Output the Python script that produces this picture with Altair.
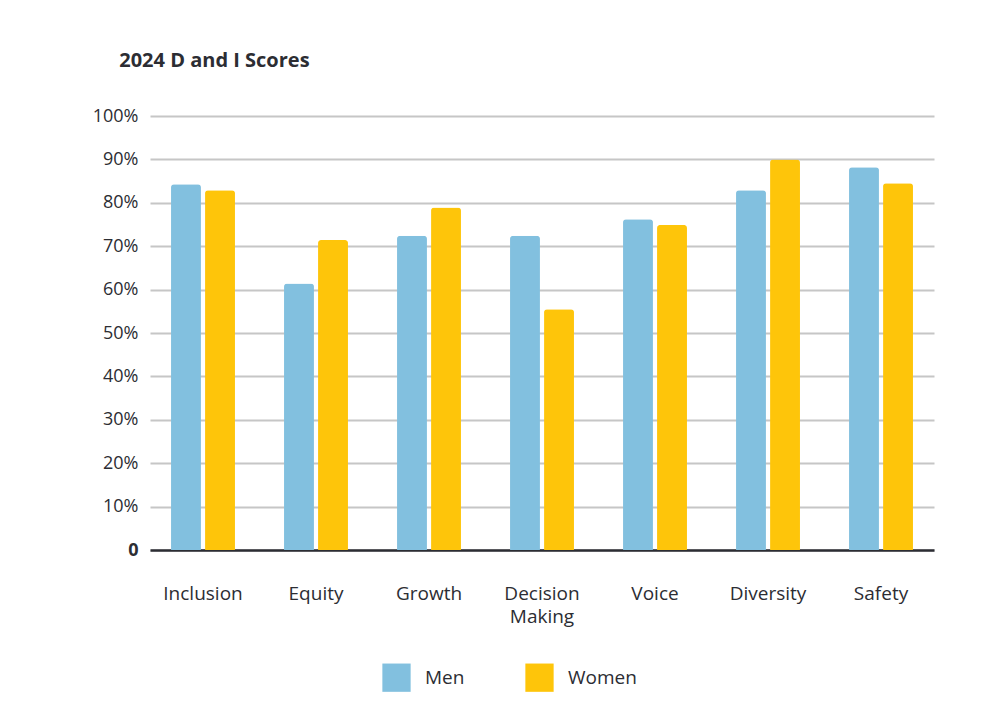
import altair as alt
import pandas as pd

categories = ["Inclusion", "Equity", "Growth", "Decision Making", "Voice", "Diversity", "Safety"]
men = [84.3, 61.4, 72.4, 72.4, 76.2, 82.9, 88.2]
women = [82.9, 71.4, 78.9, 55.5, 74.9, 90.0, 84.5]
groups = ["Men", "Women"]
colors = ["#82c0df", "#fec50a"]
y_ticks = [0, 10, 20, 30, 40, 50, 60, 70, 80, 90, 100]

rows = []
for c, m, w in zip(categories, men, women):
    rows.append({"Category": c, "Group": "Men", "Score": m})
    rows.append({"Category": c, "Group": "Women", "Score": w})
df = pd.DataFrame(rows)

FONT = "Open Sans"
TXT = "#2c2d33"

chart = alt.Chart(df).mark_bar(
    cornerRadiusTopLeft=3, cornerRadiusTopRight=3
).encode(
    x=alt.X("Category:N", sort=categories, title=None,
            scale=alt.Scale(paddingInner=0.434, paddingOuter=0.186),
            axis=alt.Axis(
                labelAngle=0, labelFontSize=19, labelColor=TXT, labelFont=FONT,
                labelPadding=34, ticks=False, domainColor=TXT, domainWidth=2.5,
                labelBaseline="top", labelLineHeight=23,
                labelExpr="datum.label == 'Decision Making' ? ['Decision', 'Making'] : datum.label",
            )),
    xOffset=alt.XOffset("Group:N", sort=groups, scale=alt.Scale(paddingInner=0.12, paddingOuter=0)),
    y=alt.Y("Score:Q", title=None,
            scale=alt.Scale(domain=[0, 100], nice=False),
            axis=alt.Axis(
                values=y_ticks, ticks=False, domain=False, labelPadding=12,
                labelFontSize=18,
                labelFontWeight={"condition": {"test": "datum.value == 0", "value": "bold"}, "value": "normal"},
                labelColor=TXT, labelFont=FONT,
                labelExpr="datum.value == 0 ? '0' : datum.value + '%'",
                gridColor="#c6c6c6", gridWidth=2,
            )),
    color=alt.Color("Group:N", sort=groups, title=None,
                    scale=alt.Scale(domain=groups, range=colors),
                    legend=alt.Legend(
                        orient="none", legendX=232, legendY=547, direction="horizontal",
                        symbolType="square", symbolSize=800, symbolStrokeWidth=0,
                        labelFontSize=19, labelFont=FONT, labelColor=TXT,
                        labelOffset=14, columnPadding=60,
                    )),
).properties(
    width=784, height=434,
    title=alt.TitleParams("2024 D and I Scores", anchor="start", dx=27, offset=36,
                          font=FONT, fontSize=20, fontWeight="bold", color=TXT),
    autosize=alt.AutoSizeParams(type="none"),
    padding={"left": 150, "top": 116, "right": 69, "bottom": 163},
    background="white",
).configure_view(stroke=None)

chart.save("out.html", embed_options={"renderer": "svg", "actions": False})
